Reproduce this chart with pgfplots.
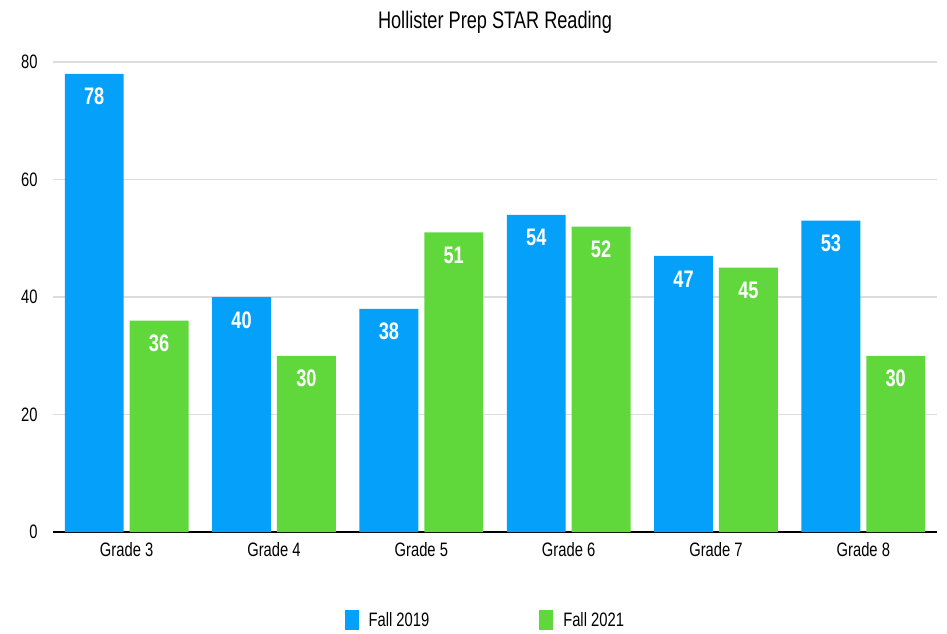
\documentclass[border=0pt]{standalone}
\usepackage{fontspec}
\setmainfont{Liberation Sans}[FakeStretch=0.76]
\usepackage{pgfplots}
\pgfplotsset{compat=1.18}
\definecolor{cblue}{HTML}{05A0FA}
\definecolor{cgreen}{HTML}{60D83C}
\definecolor{cgrid}{HTML}{DDDDDD}
\begin{document}
\begin{tikzpicture}
\path (-53bp,-102bp) rectangle (894bp,532bp);
\begin{axis}[
  at={(0bp,0bp)}, anchor=south west,
  scale only axis, width=884bp, height=470bp,
  xmin=-0.5, xmax=5.5, ymin=0, ymax=80,
  ytick={0,20,40,60,80},
  xtick={0,1,2,3,4,5},
  xticklabels={Grade 3,Grade 4,Grade 5,Grade 6,Grade 7,Grade 8},
  /pgf/number format/assume math mode=true,
  axis lines*=left,
  y axis line style={draw=none},
  x axis line style={black, line width=1.5bp, -},
  major tick length=0pt,
  ymajorgrids, grid style={cgrid, line width=1.3bp},
  tick label style={font=\fontsize{19.5}{22}\selectfont},
  yticklabel style={xshift=-12bp},
  xticklabel style={yshift=-7bp},
  ybar,
  nodes near coords,
  every node near coord/.append style={font=\bfseries\fontsize{24}{26}\selectfont, text=white, anchor=center, yshift=-23bp},
  legend columns=2,
  legend style={at={(rel axis cs:0.489,-0.187)}, anchor=center, draw=none, fill=none,
    font=\fontsize{19.5}{22}\selectfont,
    /tikz/every odd column/.append style={column sep=8bp},
    /tikz/every even column/.append style={column sep=108bp}},
  legend image code/.code={\path[#1, draw=none] (0bp,-10bp) rectangle (14bp,10bp);},
]
\addplot[fill=cblue, draw=none, bar width=0.4, bar shift=-0.22] coordinates {(0,78) (1,40) (2,38) (3,54) (4,47) (5,53)};
\addplot[fill=cgreen, draw=none, bar width=0.4, bar shift=0.22] coordinates {(0,36) (1,30) (2,51) (3,52) (4,45) (5,30)};
\legend{Fall 2019, Fall 2021}
\end{axis}
\node[font=\fontsize{24}{26}\selectfont] at (442bp,510bp) {Hollister Prep STAR Reading};
\end{tikzpicture}
\end{document}
